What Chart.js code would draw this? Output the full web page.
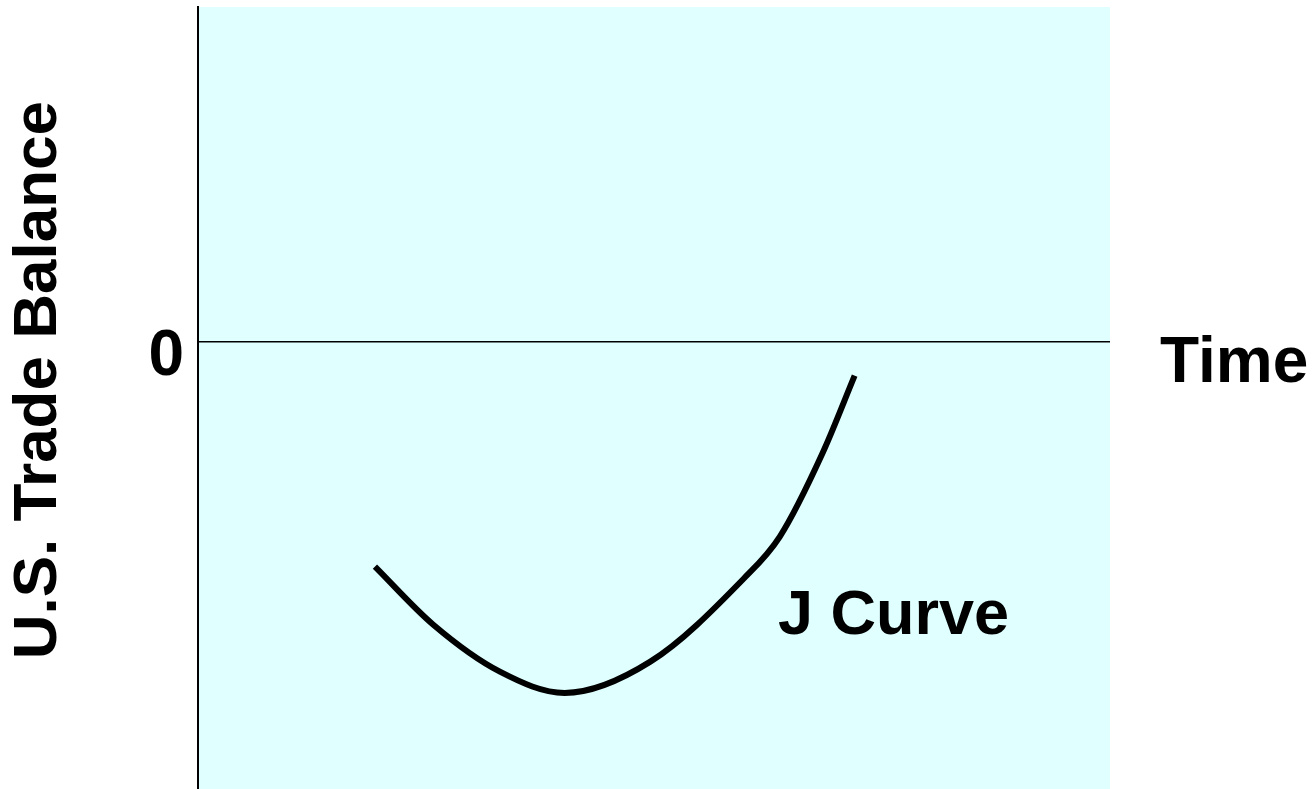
<!DOCTYPE html>
<html>
<head>
<meta charset="utf-8">
<script src="https://cdn.jsdelivr.net/npm/chart.js@4"></script>
<style>
html,body{margin:0;padding:0;background:#fff;}
#wrap{width:1314px;height:789px;}
</style>
</head>
<body>
<div id="wrap"><canvas id="c" width="1314" height="789"></canvas></div>
<script>
// ---- data ----
const curveX = [19.4, 25.8, 33.1, 40.2, 49.6, 59.8, 63.8, 68.5, 72.0];
const curveY = [-2.01, -2.53, -2.95, -3.14, -2.86, -2.12, -1.74, -0.99, -0.30];
const yTickValues = [0];
const yTickLabels = ['0'];
const yTitle = 'U.S. Trade Balance';
const xTitle = 'Time';
const curveLabel = 'J Curve';
const curveLabelPos = [63.6, -2.61];

const FONT = '"Liberation Sans", Arial, Helvetica, sans-serif';

const points = curveX.map((x, i) => ({x: x, y: curveY[i]}));

const bgPlugin = {
  id: 'bg',
  beforeDraw(chart) {
    const {ctx, chartArea: a} = chart;
    ctx.save();
    ctx.fillStyle = '#E0FFFF';
    ctx.fillRect(a.left, a.top, a.right - a.left, a.bottom - a.top);
    ctx.restore();
  }
};

const textPlugin = {
  id: 'texts',
  afterDraw(chart) {
    const {ctx, chartArea: a, scales} = chart;
    ctx.save();
    ctx.fillStyle = '#000';
    ctx.textAlign = 'left';
    ctx.textBaseline = 'alphabetic';
    ctx.font = 'bold 64px ' + FONT;
    ctx.fillText(xTitle, a.right + 50, scales.y.getPixelForValue(0) + 40);
    ctx.font = 'bold 63px ' + FONT;
    ctx.fillText(curveLabel, scales.x.getPixelForValue(curveLabelPos[0]), scales.y.getPixelForValue(curveLabelPos[1]));
    // y-axis title, rotated
    ctx.translate(a.left - 159, scales.y.getPixelForValue(-0.34));
    ctx.rotate(-Math.PI / 2);
    ctx.textAlign = 'center';
    ctx.textBaseline = 'middle';
    ctx.font = 'bold 62px ' + FONT;
    ctx.fillText(yTitle, 0, 0);
    ctx.restore();
  }
};

new Chart(document.getElementById('c'), {
  type: 'line',
  data: {
    datasets: [{
      data: points,
      borderColor: '#000',
      borderWidth: 6,
      borderCapStyle: 'butt',
      pointRadius: 0,
      pointHoverRadius: 0,
      cubicInterpolationMode: 'monotone',
      fill: false
    }]
  },
  options: {
    responsive: false,
    animation: false,
    devicePixelRatio: 1,
    layout: {padding: {top: 7, right: 204, bottom: 0, left: 0}},
    plugins: {legend: {display: false}, tooltip: {enabled: false}},
    scales: {
      x: {type: 'linear', min: 0, max: 100, display: false},
      y: {
        type: 'linear', min: -4, max: 3,
        afterFit(s) { s.width = 198; s.paddingTop = 0; s.paddingBottom = 0; },
        afterBuildTicks(s) { s.ticks = yTickValues.map(v => ({value: v})); },
        ticks: {
          callback: (v) => { const i = yTickValues.indexOf(v); return i >= 0 ? yTickLabels[i] : ''; },
          color: '#000',
          font: {family: FONT, size: 64, weight: 'bold'},
          padding: 14,
          labelOffset: 15
        },
        grid: {
          drawTicks: false,
          color: (c) => c.tick && c.tick.value === 0 ? '#000' : 'rgba(0,0,0,0)',
          lineWidth: 1.5
        },
        border: {display: true, color: '#000', width: 2},
        title: {display: false}
      }
    }
  },
  plugins: [bgPlugin, textPlugin]
});
</script>
</body>
</html>
